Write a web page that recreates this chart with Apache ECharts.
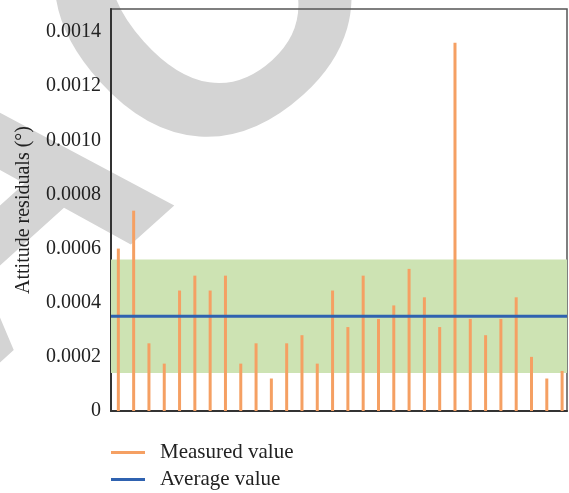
<!DOCTYPE html>
<html>
<head>
<meta charset="utf-8">
<style>
  html, body { margin: 0; padding: 0; background: #fff; }
  #chart { width: 569px; height: 493px; }
</style>
<script src="https://cdn.jsdelivr.net/npm/echarts@6/dist/echarts.min.js"></script>
</head>
<body>
<div id="chart"></div>
<script>
// Sample numbers along the x axis (not labelled)
const samples = Array.from({ length: 30 }, (_, i) => i + 1);

// Measured attitude residuals (degrees), one per sample
const measured = [
  0.00060, 0.00074, 0.00025, 0.000175, 0.000445, 0.00050, 0.000445, 0.00050,
  0.000175, 0.00025, 0.00012, 0.00025, 0.00028, 0.000175, 0.000445, 0.00031,
  0.00050, 0.00034, 0.00039, 0.000525, 0.00042, 0.00031, 0.00136, 0.00034,
  0.00028, 0.00034, 0.00042, 0.00020, 0.00012, 0.000148
];

// Average residual and the shaded spread band around it
const averageValue = 0.00035;
const bandLow = 0.00014;
const bandHigh = 0.00056;

// Axis ranges
const xMin = 0.52;
const xMax = 30.32;
const yMin = 0;
const yMax = 0.001485;
const yStep = 0.0002;

const serif = '"Liberation Serif", "DejaVu Serif", serif';
const orange = '#f5a063';
const blue = '#2f62b0';

const legendText = { fontFamily: serif, fontSize: 21, color: '#222', padding: [0, 0, 0, 10] };

const chart = echarts.init(document.getElementById('chart'), null, { renderer: 'canvas' });

chart.setOption({
  animation: false,
  backgroundColor: '#ffffff',
  // Diagonal grey watermark behind the plot
  graphic: [{
    type: 'text',
    z: -10,
    silent: true,
    x: 108,
    y: 113,
    rotation: 42 * Math.PI / 180,
    style: {
      text: 'RETRACTED',
      x: -1414,
      y: 0,
      font: 'bold 410px "Liberation Sans", Arial, sans-serif',
      fill: '#d4d4d4',
      align: 'left',
      verticalAlign: 'middle'
    }
  }],
  grid: {
    left: 111,
    right: 2,
    top: 9,
    bottom: 82,
    show: true,
    backgroundColor: 'transparent',
    borderColor: '#555',
    borderWidth: 1.5
  },
  legend: [
    {
      left: 111, top: 442, padding: 0,
      itemWidth: 34, itemHeight: 3,
      textStyle: legendText,
      data: [{ name: 'Measured value', icon: 'rect' }]
    },
    {
      left: 111, top: 469, padding: 0,
      itemWidth: 34, itemHeight: 3,
      textStyle: legendText,
      data: [{ name: 'Average value', icon: 'rect' }]
    }
  ],
  xAxis: {
    type: 'value',
    min: xMin,
    max: xMax,
    axisLine: { show: true, onZero: false, lineStyle: { color: '#333', width: 2 } },
    axisTick: { show: false },
    axisLabel: { show: false },
    splitLine: { show: false }
  },
  yAxis: {
    type: 'value',
    min: yMin,
    max: yMax,
    interval: yStep,
    name: 'Attitude residuals (°)',
    nameLocation: 'middle',
    nameGap: 77,
    nameTextStyle: { fontFamily: serif, fontSize: 20, color: '#222' },
    axisLine: { show: true, onZero: false, lineStyle: { color: '#333', width: 2 } },
    axisTick: { show: false },
    splitLine: { show: false },
    axisLabel: {
      fontFamily: serif,
      fontSize: 20,
      color: '#222',
      margin: 10,
      showMaxLabel: false,
      formatter: v => (v === 0 ? '0' : v.toFixed(4))
    }
  },
  series: [
    {
      name: 'Measured value',
      type: 'bar',
      data: samples.map((s, i) => [s, measured[i]]),
      barWidth: 3,
      itemStyle: { color: orange },
      z: 3,
      markArea: {
        silent: true,
        itemStyle: { color: '#cde3b3' },
        data: [[{ yAxis: bandLow }, { yAxis: bandHigh }]]
      }
    },
    {
      name: 'Average value',
      type: 'line',
      data: [[xMin, averageValue], [xMax, averageValue]],
      symbol: 'none',
      silent: true,
      z: 5,
      itemStyle: { color: blue },
      lineStyle: { color: blue, width: 3 }
    }
  ]
});
</script>
</body>
</html>
